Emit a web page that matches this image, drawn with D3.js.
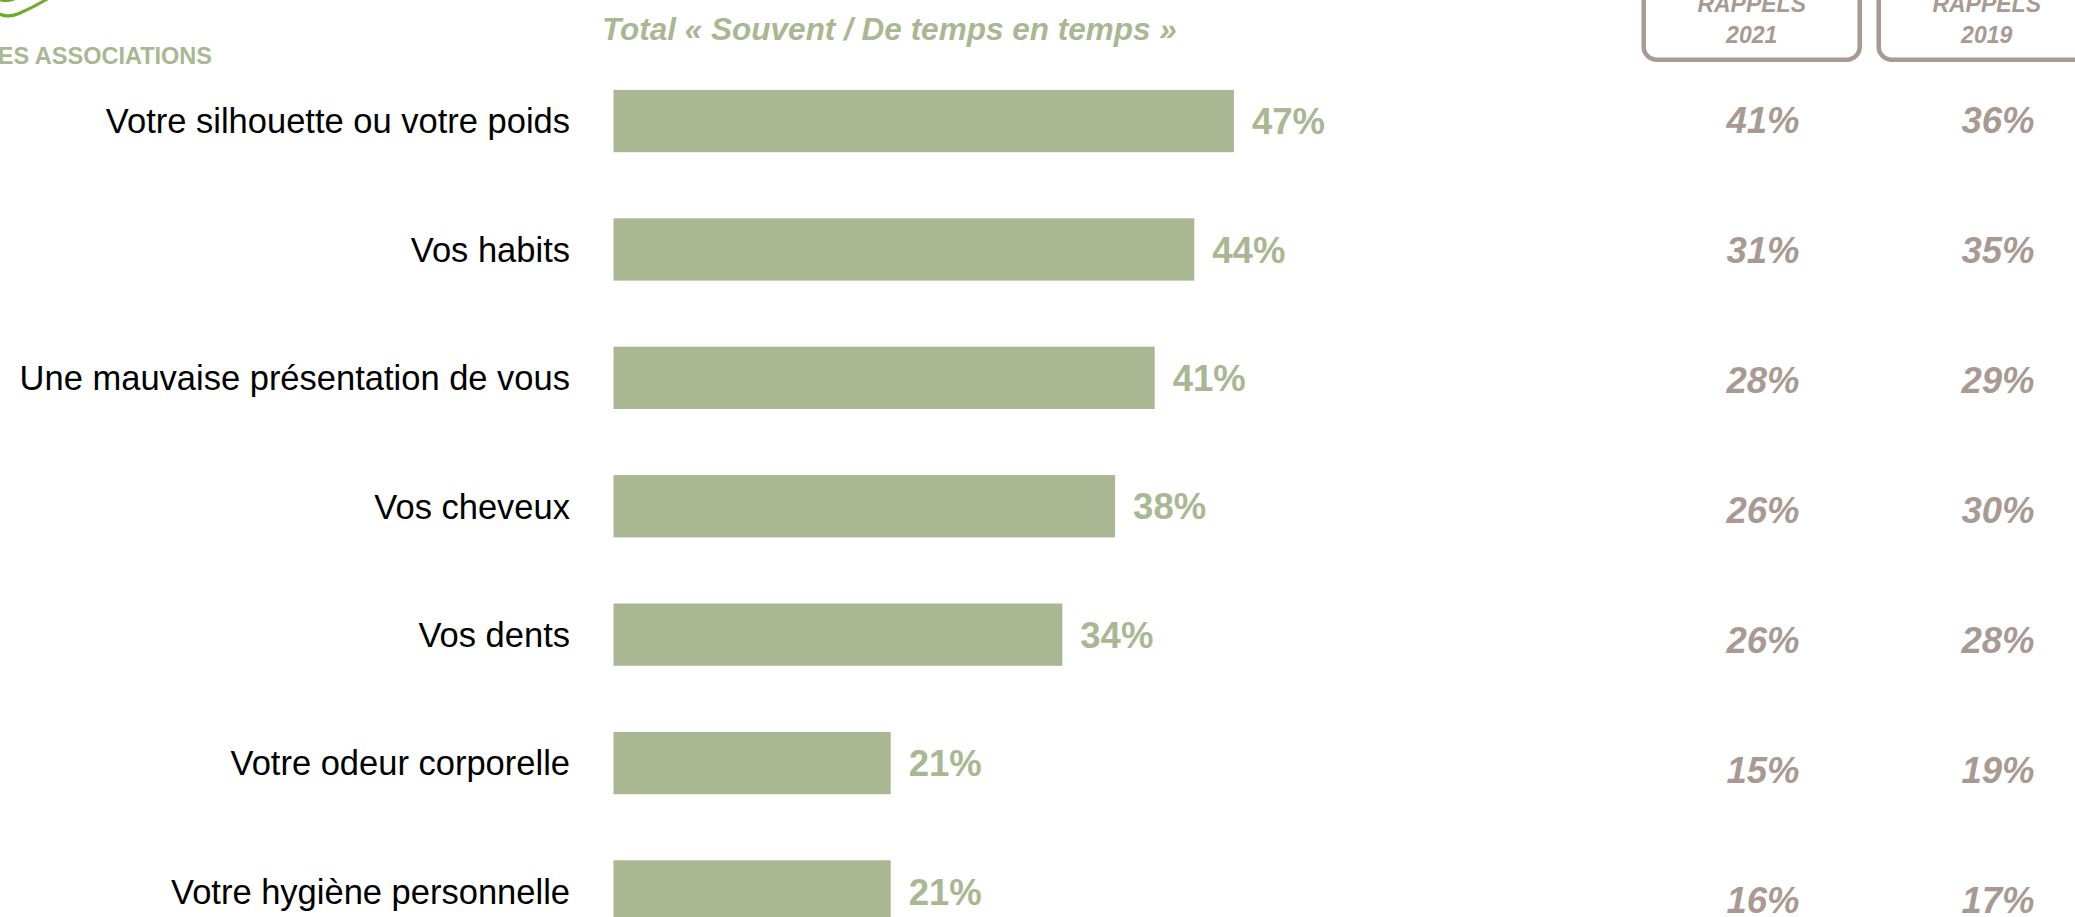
<!DOCTYPE html>
<html>
<head>
<meta charset="utf-8">
<script src="https://cdn.jsdelivr.net/npm/d3@7"></script>
<style>
  html, body { margin: 0; padding: 0; background: #ffffff; }
  svg { display: block; font-family: "Liberation Sans", Arial, Helvetica, sans-serif; }
</style>
</head>
<body>
<svg id="chart" width="2075" height="917"></svg>
<script>
// ---- Data ----
const categories = [
  "Votre silhouette ou votre poids",
  "Vos habits",
  "Une mauvaise présentation de vous",
  "Vos cheveux",
  "Vos dents",
  "Votre odeur corporelle",
  "Votre hygiène personnelle"
];
const values2023 = [47, 44, 41, 38, 34, 21, 21];
const rappels2021 = [41, 31, 28, 26, 26, 15, 16];
const rappels2019 = [36, 35, 29, 30, 28, 19, 17];
const rappelYears = ["2021", "2019"];
const rappelHeader = "RAPPELS";
const chartTitle = "Total « Souvent / De temps en temps »";
const logoText = "ES ASSOCIATIONS";

// ---- Styles ----
const green = "#a9b793";
const taupe = "#a89a92";

const svg = d3.select("#chart");

// Scales
const x = d3.scaleLinear().domain([0, 100]).range([613.5, 613.5 + 1320]);
const y = d3.scaleBand().domain(categories)
  .range([89.9, 89.9 + 128.4 * (7 - 0.5148)])
  .paddingInner(0.5148).paddingOuter(0);
// rappel rows are placed slightly differently in the original
const yR = d3.scalePoint().domain(categories).range([133, 913]);
const xR = d3.scalePoint().domain(rappelYears).range([1763, 1998]);
const xBox = d3.scalePoint().domain(rappelYears).range([1751.7, 1986.7]);

// Logo swoosh (partially visible)
const logo = svg.append("g")
  .attr("fill", "none")
  .attr("stroke", "#6fab28")
  .attr("stroke-width", 3)
  .attr("stroke-linecap", "round");
logo.append("path").attr("d", "M -6,10 C 1,17 9,17.5 19,13.5 Q 34,7 49,-2");
logo.append("path").attr("d", "M -4,-2 Q 5,2.5 14,-1");

svg.append("text")
  .attr("x", 212).attr("y", 64)
  .attr("text-anchor", "end")
  .attr("font-size", 23.5).attr("font-weight", "bold")
  .attr("fill", green)
  .text(logoText);

// Title
svg.append("text")
  .attr("x", 602).attr("y", 40)
  .attr("font-size", 31.5).attr("font-weight", "bold").attr("font-style", "italic")
  .attr("fill", green)
  .text(chartTitle);

// Bars
svg.append("g").selectAll("rect")
  .data(categories)
  .join("rect")
  .attr("x", x(0))
  .attr("y", d => y(d))
  .attr("width", (d, i) => x(values2023[i]) - x(0))
  .attr("height", y.bandwidth())
  .attr("fill", green);

// Value labels
svg.append("g").selectAll("text")
  .data(categories)
  .join("text")
  .attr("x", (d, i) => x(values2023[i]) + 18)
  .attr("y", d => y(d) + y.bandwidth() / 2)
  .attr("dy", "0.36em")
  .attr("font-size", 36.5).attr("font-weight", "bold")
  .attr("fill", green)
  .text((d, i) => values2023[i] + "%");

// Category labels
svg.append("g").selectAll("text")
  .data(categories)
  .join("text")
  .attr("x", 570)
  .attr("y", d => y(d) + y.bandwidth() / 2)
  .attr("dy", "0.36em")
  .attr("text-anchor", "end")
  .attr("font-size", 34.5)
  .attr("fill", "#000000")
  .text(d => d);

// Rappel boxes
const boxW = 216, boxTop = -40, boxBottom = 59.7;
const boxes = svg.append("g");
rappelYears.forEach(yr => {
  boxes.append("rect")
    .attr("x", xBox(yr) - boxW / 2)
    .attr("y", boxTop)
    .attr("width", boxW)
    .attr("height", boxBottom - boxTop)
    .attr("rx", 13).attr("ry", 13)
    .attr("fill", "none")
    .attr("stroke", taupe)
    .attr("stroke-width", 4.5);
  boxes.append("text")
    .attr("x", xBox(yr)).attr("y", 12)
    .attr("text-anchor", "middle")
    .attr("font-size", 23).attr("font-weight", "bold").attr("font-style", "italic")
    .attr("fill", taupe)
    .text(rappelHeader);
  boxes.append("text")
    .attr("x", xBox(yr)).attr("y", 43.3)
    .attr("text-anchor", "middle")
    .attr("font-size", 23).attr("font-weight", "bold").attr("font-style", "italic")
    .attr("fill", taupe)
    .text(yr);
});

// Rappel values
const rappelSeries = [rappels2021, rappels2019];
rappelYears.forEach((yr, j) => {
  svg.append("g").selectAll("text")
    .data(categories)
    .join("text")
    .attr("x", xR(yr))
    .attr("y", d => yR(d))
    .attr("text-anchor", "middle")
    .attr("font-size", 36.5).attr("font-weight", "bold").attr("font-style", "italic")
    .attr("fill", taupe)
    .text((d, i) => rappelSeries[j][i] + "%");
});
</script>
</body>
</html>
